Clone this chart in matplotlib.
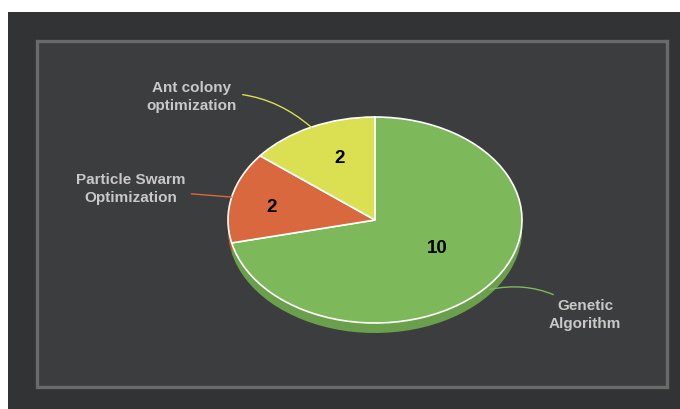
import numpy as np
import matplotlib.pyplot as plt
from matplotlib.patches import Rectangle

# data
labels = ['Genetic\nAlgorithm', 'Particle Swarm\nOptimization', 'Ant colony\noptimization']
values = [10, 2, 2]
colors = ['#7db95b', '#d9683f', '#dbdf52']
side_colors = ['#6aa04c', '#b85834', '#b9bd45']

W, H = 680, 409
fig = plt.figure(figsize=(W / 100, H / 100), dpi=100, facecolor='white')

# backgrounds
fig.patches.append(Rectangle((8 / W, 0), 1 - 8 / W, (H - 12) / H,
                             transform=fig.transFigure, facecolor='#323335',
                             edgecolor='none', zorder=-10))
fig.patches.append(Rectangle((37 / W, (H - 387) / H), (667 - 37) / W, (387 - 41) / H,
                             transform=fig.transFigure, facecolor='#3c3d3f',
                             edgecolor='#6a6a6a', linewidth=2.4, zorder=-9))

# pie axes (ellipse: center 375,220 ; rx 147 ; ry 103)
cx, cy, rx, ry = 375, 220, 147, 103
left, right, top, bottom = 218, 532, 107, 343
ax = fig.add_axes([left / W, (H - bottom) / H, (right - left) / W, (bottom - top) / H])
ax.set_zorder(5)


def fix_limits():
    ax.set_xlim((left - cx) / rx, (right - cx) / rx)
    ax.set_ylim((cy - bottom) / ry, (cy - top) / ry)
    ax.set_aspect('auto')


depth = 10 / ry
for d in np.linspace(depth, 0, 6)[:-1]:
    ax.pie(values, colors=side_colors, startangle=90, counterclock=False,
           center=(0, -d), radius=1, wedgeprops=dict(linewidth=0))

wedges, texts = ax.pie(values, colors=colors, startangle=90, counterclock=False,
                       radius=1, wedgeprops=dict(edgecolor='white', linewidth=1.2))
fix_limits()
ax.axis('off')

# value labels (radius, angle shift from wedge middle)
inner_r = [0.505, 0.71, 0.646]
inner_shift = [5, 3.4, -4]
for w, v, r, s in zip(wedges, values, inner_r, inner_shift):
    mid = np.deg2rad((w.theta1 + w.theta2) / 2 + s)
    ax.text(r * np.cos(mid), r * np.sin(mid), str(v), ha='center', va='center',
            fontsize=13.5, fontweight='bold', color='black', family='Liberation Sans')

# outer labels with leader lines
text_pos = [(585, 315), (131, 189), (192, 97)]
rads = [0.25, 0.0, -0.25]
for w, lab, c, (tx, ty), rad in zip(wedges, labels, colors, text_pos, rads):
    mid = np.deg2rad((w.theta1 + w.theta2) / 2)
    ax.annotate(lab, xy=(np.cos(mid), np.sin(mid) - (0.05 if np.sin(mid) < 0 else 0)),
                xytext=(tx, H - ty), textcoords='figure pixels',
                ha='center', va='center', fontsize=11, fontweight='bold',
                color='#c8c8c8', family='Liberation Sans', linespacing=1.45,
                arrowprops=dict(arrowstyle='-', color=c, lw=1,
                                connectionstyle='arc3,rad=%s' % rad,
                                shrinkA=2, shrinkB=0),
                annotation_clip=False)

plt.savefig('out.png', dpi=100, facecolor='white')
